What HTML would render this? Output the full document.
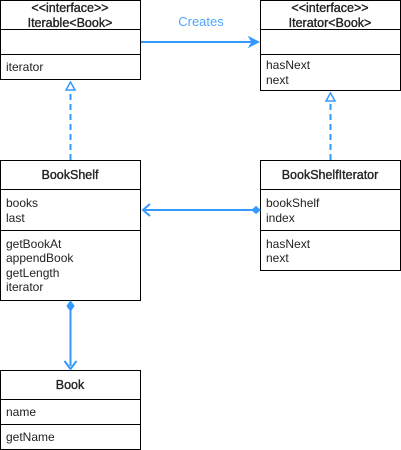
<!DOCTYPE html>
<html><head><meta charset="utf-8"><style>
html,body{margin:0;padding:0;background:#fff;}
svg{display:block;}
text{font-family:"Liberation Sans",Arial,sans-serif;font-size:12px;fill:#222;}
.b{font-size:12.5px;stroke:#222;stroke-width:0.35;}
</style></head><body>
<svg width="401" height="450" viewBox="0 0 401 450" xmlns="http://www.w3.org/2000/svg">
<g fill="#fff" stroke="#000" stroke-width="1">
<rect x="0.5" y="0.5" width="140" height="79"/>
<line x1="0.5" y1="29.5" x2="140.5" y2="29.5"/><line x1="0.5" y1="54.5" x2="140.5" y2="54.5"/>
<rect x="260.5" y="0.5" width="140" height="90"/>
<line x1="260.5" y1="29.5" x2="400.5" y2="29.5"/><line x1="260.5" y1="54.5" x2="400.5" y2="54.5"/>
<rect x="0.5" y="160.5" width="140" height="140"/>
<line x1="0.5" y1="189.5" x2="140.5" y2="189.5"/><line x1="0.5" y1="230.5" x2="140.5" y2="230.5"/>
<rect x="260.5" y="160.5" width="140" height="110"/>
<line x1="260.5" y1="189.5" x2="400.5" y2="189.5"/><line x1="260.5" y1="230.5" x2="400.5" y2="230.5"/>
<rect x="0.5" y="370.5" width="140" height="79"/>
<line x1="0.5" y1="399.5" x2="140.5" y2="399.5"/><line x1="0.5" y1="424.5" x2="140.5" y2="424.5"/>
</g>
<g text-anchor="middle">
<text x="70" y="12" class="b">&lt;&lt;interface&gt;&gt;</text>
<text x="70" y="27" class="b">Iterable&lt;Book&gt;</text>
<text x="330" y="12" class="b">&lt;&lt;interface&gt;&gt;</text>
<text x="330" y="27" class="b">Iterator&lt;Book&gt;</text>
<text x="70" y="179" class="b">BookShelf</text>
<text x="330" y="179" class="b">BookShelfIterator</text>
<text x="70" y="389" class="b">Book</text>
<text x="201" y="26" style="fill:#4da6ff;font-size:13px">Creates</text>
</g>
<g>
<text x="6" y="71">iterator</text>
<text x="266" y="69">hasNext</text><text x="266" y="84">next</text>
<text x="6" y="207">books</text><text x="6" y="222">last</text>
<text x="6" y="248">getBookAt</text><text x="6" y="262">appendBook</text><text x="6" y="277">getLength</text><text x="6" y="291">iterator</text>
<text x="266" y="207">bookShelf</text><text x="266" y="222">index</text>
<text x="266" y="248">hasNext</text><text x="266" y="262">next</text>
<text x="6" y="416">name</text>
<text x="6" y="441">getName</text>
</g>
<g stroke="#3399ff" stroke-width="2" fill="none">
<line x1="141" y1="42" x2="256" y2="42"/>
<line x1="70.5" y1="160" x2="70.5" y2="91" stroke-dasharray="6,4"/>
<line x1="330.5" y1="160" x2="330.5" y2="102" stroke-dasharray="6,4"/>
<line x1="145" y1="210" x2="252" y2="210"/>
<path d="M150 204 L143 210 L150 216"/>
<line x1="70.5" y1="310" x2="70.5" y2="366"/>
<path d="M64.5 361 L70.5 369 L76.5 361"/>
</g>
<g fill="#3399ff" stroke="#3399ff">
<path d="M249 37 L259 42 L249 47 L252 42 Z"/>
<path d="M252 210 L256 206.5 L260 210 L256 213.5 Z"/>
<path d="M70.5 301 L74 306 L70.5 311 L67 306 Z"/>
</g>
<g fill="#fff" stroke="#3399ff" stroke-width="1.5">
<path d="M70.5 82 L75 90 L66 90 Z"/>
<path d="M330.5 93 L335 101 L326 101 Z"/>
</g>
</svg>
</body></html>
